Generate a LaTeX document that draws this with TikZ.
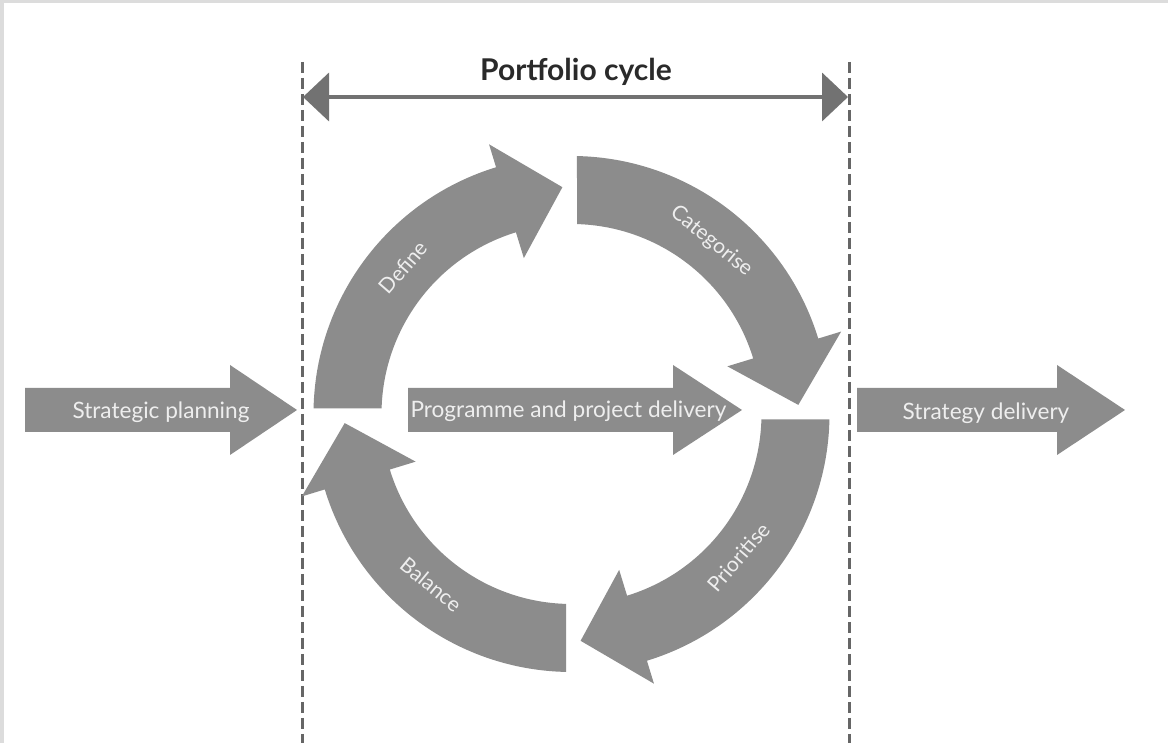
\documentclass[tikz,border=0pt]{standalone}
\usepackage{fontspec}
\setmainfont{Lato}
\usetikzlibrary{arrows.meta}
\definecolor{arrowgray}{HTML}{8C8C8C}
\definecolor{lightgraytxt}{HTML}{EEEEEE}
\definecolor{titlegray}{HTML}{2A2A2A}
\definecolor{dashgray}{HTML}{666666}
\definecolor{linegray}{HTML}{727272}
\definecolor{edgegray}{HTML}{DCDCDC}
\tikzset{
  blockfill/.style={fill=arrowgray},
  lbl/.style={text=lightgraytxt, font=\fontsize{22.6}{26}\selectfont, inner sep=0pt, anchor=base},
  arclbl/.style={text=lightgraytxt, font=\fontsize{21}{24}\selectfont, inner sep=0pt, text height=0.72em, text depth=0pt, anchor=center},
  dashline/.style={draw=dashgray, line width=3pt, dash pattern=on 11pt off 5pt},
  spanline/.style={draw=linegray, line width=4pt, {Triangle[length=26pt,width=48pt]}-{Triangle[length=26pt,width=48pt]}},
}
\begin{document}
\begin{tikzpicture}[x=1pt,y=1pt]
\useasboundingbox (0,0) rectangle (1168,743);
\fill[white] (0,0) rectangle (1168,743);
\fill[edgegray] (0,0) rectangle (4,743);
\fill[edgegray] (0,740) rectangle (1168,743);

% dashed boundary lines
\coordinate (dlTop) at (302,681);
\coordinate (dlBot) at (302,0);
\coordinate (drTop) at (849,681);
\coordinate (drBot) at (849,0);
\draw[dashline] (dlTop) -- (dlBot);
\draw[dashline] (drTop) -- (drBot);

% portfolio cycle span
\coordinate (pcL) at (303,646);
\coordinate (pcR) at (848,646);
\draw[spanline] (pcL) -- (pcR);
\node[text=titlegray, font=\bfseries\fontsize{30}{34}\selectfont, inner sep=0pt, anchor=base] (title) at (576,662) {Portfolio cycle};

% straight block arrows
\fill[blockfill] (25,311) -- (230,311) -- (230,288) -- (297,333) -- (230,378) -- (230,355) -- (25,355) -- cycle;
\node[lbl] (sp) at (161,324) {Strategic planning};

\fill[blockfill] (408,311) -- (673,311) -- (673,288) -- (742,333) -- (673,378) -- (673,355) -- (408,355) -- cycle;
\node[lbl] (ppd) at (568.5,325) {Programme and project delivery};

\fill[blockfill] (857,311) -- (1057,311) -- (1057,288) -- (1125,333) -- (1057,378) -- (1057,355) -- (857,355) -- cycle;
\node[lbl] (sd) at (986,323) {Strategy delivery};

% cycle ring arrows
\begin{scope}[shift={(571.5,329)}]
  \foreach \r in {0,-90,-180,-270} {
    \fill[blockfill, rotate=\r] (178.78:258) arc[start angle=178.78, end angle=107, radius=258]
      -- (107:282) -- (92.3:227) -- (107:163) -- (107:190)
      arc[start angle=107, end angle=178.34, radius=190] -- cycle;
  }
  \node[arclbl, rotate=49] (def) at (139:219) {Define};
  \node[arclbl, rotate=-39] (cat) at (51:220) {Categorise};
  \node[arclbl, rotate=49.4] (pri) at (-40.6:224) {Prioritise};
  \node[arclbl, rotate=-39.5] (bal) at (-129.5:225) {Balance};
\end{scope}
\end{tikzpicture}
\end{document}
